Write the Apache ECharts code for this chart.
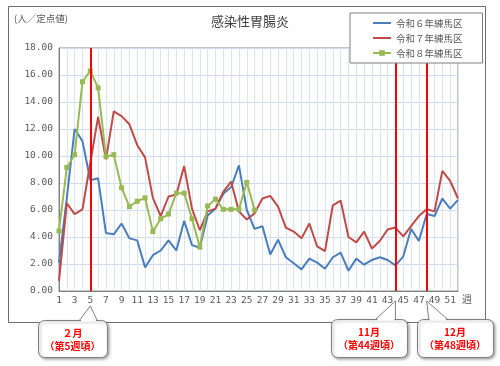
<!DOCTYPE html>
<html>
<head>
<meta charset="utf-8">
<script src="https://cdn.jsdelivr.net/npm/echarts@6/dist/echarts.min.js"></script>
<style>
  html, body { margin: 0; padding: 0; background: #fff; }
  #main { width: 500px; height: 366px; }
</style>
</head>
<body>
<div id="main"></div>
<script>
// 週 (1〜52)
const weeks = ['1', '2', '3', '4', '5', '6', '7', '8', '9', '10', '11', '12', '13',
  '14', '15', '16', '17', '18', '19', '20', '21', '22', '23', '24', '25', '26',
  '27', '28', '29', '30', '31', '32', '33', '34', '35', '36', '37', '38', '39',
  '40', '41', '42', '43', '44', '45', '46', '47', '48', '49', '50', '51', '52']

// 定点当たり報告数
const r6 = [2.1, 6.9, 12.0, 11.1, 8.2, 8.35, 4.3, 4.2, 5.0, 3.9, 3.75, 1.75, 2.65,
  3.0, 3.75, 3.0, 5.2, 3.4, 3.2, 5.6, 6.1, 7.2, 7.7, 9.3, 6.0, 4.6,
  4.8, 2.7, 3.8, 2.5, 2.05, 1.6, 2.4, 2.1, 1.65, 2.5, 2.85, 1.5, 2.4,
  1.95, 2.3, 2.5, 2.3, 1.9, 2.55, 4.6, 3.7, 5.7, 5.55, 6.85, 6.1, 6.75]
const r7 = [0.75, 6.5, 5.7, 6.05, 9.5, 12.9, 9.75, 13.3, 12.95, 12.35, 10.8, 9.9, 6.9,
  5.55, 7.0, 7.15, 9.25, 6.1, 4.5, 5.9, 6.1, 7.35, 8.1, 5.9, 5.3, 5.75,
  6.85, 7.05, 6.25, 4.7, 4.4, 3.9, 5.0, 3.3, 2.95, 6.35, 6.7, 4.0, 3.6,
  4.4, 3.15, 3.7, 4.55, 4.7, 4.05, 4.8, 5.55, 6.05, 5.9, 8.9, 8.15, 6.85]
const r8 = [4.45, 9.15, 10.1, 15.5, 16.3, 15.05, 9.95, 10.1, 7.65, 6.25, 6.65, 6.9, 4.4,
  5.35, 5.7, 7.25, 7.25, 5.35, 3.25, 6.3, 6.8, 6.05, 6.05, 6.05, 8.05, 6.0]

const seriesNames = ['令和６年練馬区', '令和７年練馬区', '令和８年練馬区']
const markWeeks = ['5', '44', '48']

const FONT = '"Noto Sans CJK JP", sans-serif'
const MONO = '"DejaVu Sans Mono", monospace'
const GREY = '#595959'

let chartDom = document.getElementById('main')
let myChart = echarts.init(chartDom)

// 線だけの凡例（記号を消す）
const lineOnly = { opacity: 0, color: 'rgba(0,0,0,0)', borderWidth: 0 }

let option = {
  animation: false,
  textStyle: { fontFamily: FONT },
  title: [
    {
      text: '感染性胃腸炎',
      left: 'center',
      top: 15,
      padding: 0,
      textStyle: { fontSize: 13, fontWeight: 'normal', color: '#404040', fontFamily: FONT }
    },
    {
      text: '(人／定点値)',
      left: 14,
      top: 14,
      padding: 0,
      textStyle: { fontSize: 9.5, fontWeight: 'normal', color: GREY, fontFamily: FONT }
    }
  ],
  legend: {
    orient: 'vertical',
    left: 350,
    top: 13,
    z: 10,
    padding: [4, 20, 4, 22],
    itemGap: 3,
    itemWidth: 18,
    itemHeight: 7,
    backgroundColor: '#fff',
    borderColor: '#7f7f7f',
    borderWidth: 1,
    textStyle: { fontSize: 9.5, color: GREY, fontFamily: FONT, lineHeight: 12 },
    data: [
      { name: seriesNames[0], itemStyle: lineOnly },
      { name: seriesNames[1], itemStyle: lineOnly },
      { name: seriesNames[2] }
    ]
  },
  grid: {
    left: 59,
    right: 42,
    top: 48,
    bottom: 75,
    show: true,
    borderColor: '#8c8c8c',
    borderWidth: 1,
    outerBoundsMode: 'none'
  },
  xAxis: {
    type: 'category',
    data: weeks,
    boundaryGap: false,
    name: '週',
    nameLocation: 'end',
    nameGap: 4,
    nameTextStyle: { color: GREY, fontSize: 10, verticalAlign: 'top', padding: [3, 0, 0, 0] },
    axisLine: { lineStyle: { color: '#7f7f7f' } },
    axisTick: { show: false },
    axisLabel: { interval: 1, color: GREY, fontFamily: MONO, fontSize: 9.5, margin: 5 },
    splitLine: { show: true, interval: 0, lineStyle: { color: '#dae4f1' } }
  },
  yAxis: {
    type: 'value',
    min: 0,
    max: 18,
    interval: 2,
    axisLine: { show: true, lineStyle: { color: '#7f7f7f' } },
    axisTick: { show: false },
    axisLabel: {
      formatter: (v) => v.toFixed(2),
      color: GREY,
      fontFamily: MONO,
      fontSize: 9.5,
      margin: 6
    },
    splitLine: { lineStyle: { color: '#cfdcee' } }
  },
  series: [
    {
      name: seriesNames[0],
      type: 'line',
      data: r6,
      symbol: 'none',
      lineStyle: { color: '#4a7ebb', width: 2 },
      itemStyle: { color: '#4a7ebb' },
      markLine: {
        silent: true,
        symbol: 'none',
        label: { show: false },
        emphasis: { disabled: true },
        lineStyle: { color: '#ff0000', width: 2, type: 'solid' },
        data: markWeeks.map((w) => ({ xAxis: w }))
      }
    },
    {
      name: seriesNames[1],
      type: 'line',
      data: r7,
      symbol: 'none',
      lineStyle: { color: '#be4b48', width: 2 },
      itemStyle: { color: '#be4b48' }
    },
    {
      name: seriesNames[2],
      type: 'line',
      data: r8,
      symbol: 'rect',
      symbolSize: 5,
      lineStyle: { color: '#98b954', width: 2 },
      itemStyle: { color: '#98b954' }
    }
  ]
}

myChart.setOption(option)

// 吹き出し（枠の位置はレイアウト用、先端は軸の目盛から求める）
const callouts = [
  { week: '5', title: '２月', sub: '（第5週頃）', box: [38, 320, 69, 37], tipY: 306, base: [-11, 7] },
  { week: '44', title: '11月', sub: '（第44週頃）', box: [331, 319, 76, 38], tipY: 301, base: [-20, 0] },
  { week: '48', title: '12月', sub: '（第48週頃）', box: [417, 319, 76, 38], tipY: 301, base: [2, 21] }
]

const graphics = [
  {
    type: 'rect',
    silent: true,
    shape: { x: 8.5, y: 6.5, width: 477, height: 316 },
    style: { fill: 'none', stroke: '#6e6e6e', lineWidth: 1 }
  }
]

callouts.forEach((c) => {
  const tx = myChart.convertToPixel({ xAxisIndex: 0 }, c.week)
  const [bx, by, bw, bh] = c.box
  graphics.push({
    type: 'rect',
    silent: true,
    shape: { x: bx + 0.5, y: by + 0.5, width: bw, height: bh, r: 6 },
    style: {
      fill: '#fff',
      stroke: '#7f7f7f',
      lineWidth: 1,
      shadowBlur: 3,
      shadowOffsetX: 1.5,
      shadowOffsetY: 1.5,
      shadowColor: 'rgba(0,0,0,0.35)'
    }
  })
  graphics.push({
    type: 'polygon',
    silent: true,
    shape: { points: [[tx + c.base[0] + 1, by + 1.5], [tx, c.tipY], [tx + c.base[1] - 1, by + 1.5]] },
    style: { fill: '#fff' }
  })
  graphics.push({
    type: 'polyline',
    silent: true,
    shape: { points: [[tx + c.base[0], by + 0.5], [tx, c.tipY], [tx + c.base[1], by + 0.5]] },
    style: { stroke: '#7f7f7f', lineWidth: 1, fill: null }
  })
  graphics.push({
    type: 'text',
    silent: true,
    x: bx + bw / 2,
    y: by + bh / 2 + 1,
    style: {
      text: c.title + '\n' + c.sub,
      align: 'center',
      verticalAlign: 'middle',
      fill: '#ff0000',
      fontSize: 10,
      fontWeight: 'bold',
      fontFamily: FONT,
      lineHeight: 13
    }
  })
})

myChart.setOption({ graphic: graphics })
</script>
</body>
</html>
